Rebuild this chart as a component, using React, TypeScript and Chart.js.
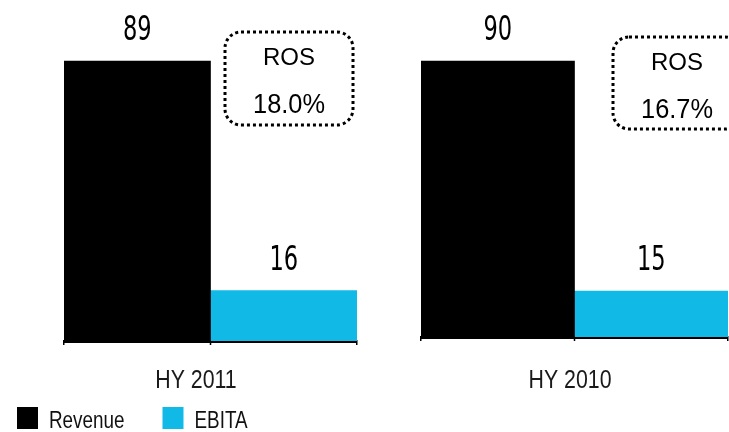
import React, { useEffect, useRef } from "react";
import { Chart, registerables } from "chart.js";

Chart.register(...registerables);

const categories = ["HY 2011", "HY 2010"];
const seriesNames = ["Revenue", "EBITA"];
const revenue = [89, 90];
const ebita = [16, 15];
const rosPct = [18.0, 16.7];
const rosTitle = "ROS";

const seriesColors = ["#000000", "#10B9E6"];
const CONDENSED = "'DejaVu Sans Condensed', 'DejaVu Sans', sans-serif";
const SANS = "'Liberation Sans', Arial, sans-serif";

type PanelCfg = {
  index: number;
  left: number;
  width: number;
  padLeft: number;
  padRight: number;
  padTop: number;
  axisY: number;
  labelDx: number;
  ros: { x: number; y: number; w: number; h: number };
  legend: boolean;
};

const H = 432;

const panels: PanelCfg[] = [
  { index: 0, left: 0, width: 364, padLeft: 64, padRight: 7, padTop: 26.4, axisY: 341, labelDx: -14.5, ros: { x: 225, y: 32, w: 128, h: 93 }, legend: true },
  { index: 1, left: 364, width: 365, padLeft: 57, padRight: 1, padTop: 30.3, axisY: 337, labelDx: -4.5, ros: { x: 249, y: 37, w: 128, h: 92 }, legend: false },
];

function drawText(
  ctx: CanvasRenderingContext2D,
  text: string,
  x: number,
  y: number,
  font: string,
  sx: number,
  align: CanvasTextAlign,
  baseline: CanvasTextBaseline,
  color: string
) {
  ctx.save();
  ctx.translate(x, y);
  ctx.scale(sx, 1);
  ctx.font = font;
  ctx.textAlign = align;
  ctx.textBaseline = baseline;
  ctx.fillStyle = color;
  ctx.fillText(text, 0, 0);
  ctx.restore();
}

function makePlugin(cfg: PanelCfg) {
  return {
    id: "panelDecor" + cfg.index,
    afterDraw(chart: any) {
      const ctx: CanvasRenderingContext2D = chart.ctx;
      // value labels
      chart.data.datasets.forEach((ds: any, di: number) => {
        const meta = chart.getDatasetMeta(di);
        meta.data.forEach((bar: any, i: number) => {
          drawText(ctx, String(ds.data[i]), bar.x, bar.y - 21, `33px ${CONDENSED}`, 0.76, "center", "alphabetic", "#000");
        });
      });
      // category label under the axis
      const xs = chart.scales.x;
      const labels = chart.data.labels as string[];
      labels.forEach((lab: string, i: number) => {
        drawText(ctx, lab, xs.getPixelForTick(i) + cfg.labelDx, 388, `26px ${SANS}`, 0.82, "center", "alphabetic", "#1a1a1a");
      });
      // middle tick between the bars
      const b0 = chart.getDatasetMeta(0).data[0];
      if (b0) {
        const mx = b0.x + b0.width / 2;
        const ay = chart.chartArea.bottom;
        ctx.save();
        ctx.strokeStyle = "#000";
        ctx.lineWidth = 1.5;
        ctx.beginPath();
        ctx.moveTo(mx, ay);
        ctx.lineTo(mx, ay + 4);
        ctx.stroke();
        ctx.restore();
      }
      // ROS box
      const r = cfg.ros;
      ctx.save();
      ctx.strokeStyle = "#000";
      ctx.lineWidth = 3;
      ctx.setLineDash([3, 3]);
      ctx.beginPath();
      (ctx as any).roundRect(r.x, r.y, r.w, r.h, 16);
      ctx.stroke();
      ctx.restore();
      drawText(ctx, rosTitle, r.x + r.w / 2, r.y + 33, `24px ${SANS}`, 1, "center", "alphabetic", "#000");
      drawText(ctx, rosPct[cfg.index].toFixed(1) + "%", r.x + r.w / 2, r.y + 81, `27px ${SANS}`, 0.94, "center", "alphabetic", "#000");
      // legend
      if (cfg.legend) {
        let x = 17;
        ctx.save();
        ctx.font = `23px ${SANS}`;
        chart.data.datasets.forEach((ds: any) => {
          ctx.fillStyle = ds.backgroundColor;
          ctx.fillRect(x, 407, 21, 22);
          drawText(ctx, ds.label, x + 32, 428, `23px ${SANS}`, 0.82, "left", "alphabetic", "#111");
          x += 32 + ctx.measureText(ds.label).width * 0.82 + 38;
        });
        ctx.restore();
      }
    },
  };
}

function Panel({ cfg }: { cfg: PanelCfg }) {
  const ref = useRef<HTMLCanvasElement>(null);
  useEffect(() => {
    if (!ref.current) return;
    const i = cfg.index;
    const chart = new Chart(ref.current, {
      type: "bar",
      data: {
        labels: [categories[i]],
        datasets: [
          { label: seriesNames[0], data: [revenue[i]], backgroundColor: seriesColors[0], borderWidth: 0, barPercentage: 1, categoryPercentage: 1 },
          { label: seriesNames[1], data: [ebita[i]], backgroundColor: seriesColors[1], borderWidth: 0, barPercentage: 1, categoryPercentage: 1 },
        ],
      },
      options: {
        animation: false,
        responsive: false,
        maintainAspectRatio: false,
        devicePixelRatio: 1,
        layout: { padding: { left: cfg.padLeft, right: cfg.padRight, top: cfg.padTop, bottom: 0 } },
        plugins: { legend: { display: false }, tooltip: { enabled: false } },
        scales: {
          x: {
            z: 1,
            offset: true,
            grid: { display: true, drawOnChartArea: false, drawTicks: true, tickLength: 4, color: "#000", lineWidth: 1.5, offset: true },
            border: { display: true, color: "#000", width: 3 },
            ticks: { display: false },
            afterFit: (s: any) => {
              s.height = H - cfg.axisY;
            },
          },
          y: { display: false, min: 0, max: 100 },
        },
      },
      plugins: [makePlugin(cfg)],
    } as any);
    return () => chart.destroy();
  }, [cfg]);
  return (
    <canvas
      ref={ref}
      width={cfg.width}
      height={H}
      style={{ position: "absolute", left: cfg.left, top: 0, width: cfg.width, height: H }}
    />
  );
}

export default function App() {
  return (
    <div style={{ position: "fixed", left: 0, top: 0, width: 729, height: 432, background: "#fff", overflow: "hidden" }}>
      {panels.map((p) => (
        <Panel key={p.index} cfg={p} />
      ))}
    </div>
  );
}
